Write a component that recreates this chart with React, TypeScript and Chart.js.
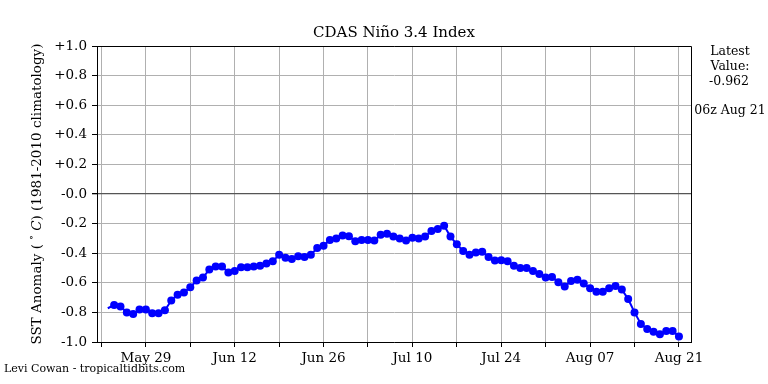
import React, { useEffect, useRef } from "react";
import { Chart, registerables } from "chart.js";

Chart.register(...registerables);

// Daily CDAS Niño 3.4 anomaly, May 23 (day -6 relative to May 29) through Aug 21 (day 84)
const firstDay = -6;
const anomalies: number[] = [
  -0.772, -0.75, -0.76, -0.8, -0.81, -0.78,
  -0.78, -0.805, -0.805, -0.785, -0.72, -0.68, -0.665,
  -0.63, -0.585, -0.565, -0.51, -0.49, -0.49, -0.53,
  -0.52, -0.495, -0.495, -0.49, -0.485, -0.47, -0.455,
  -0.41, -0.43, -0.44, -0.42, -0.425, -0.41, -0.365,
  -0.35, -0.31, -0.3, -0.28, -0.285, -0.32, -0.31,
  -0.31, -0.315, -0.275, -0.268, -0.288, -0.3, -0.315,
  -0.295, -0.3, -0.288, -0.25, -0.236, -0.215, -0.288,
  -0.34, -0.385, -0.41, -0.395, -0.39, -0.425, -0.45,
  -0.447, -0.455, -0.485, -0.5, -0.5, -0.52, -0.54,
  -0.565, -0.56, -0.597, -0.625, -0.588, -0.58, -0.605,
  -0.637, -0.66, -0.66, -0.637, -0.622, -0.645, -0.71,
  -0.8, -0.878, -0.912, -0.93, -0.948, -0.925, -0.926,
  -0.962,
];

const xTickDays = [0, 14, 28, 42, 56, 70, 84];
const xTickLabels = ["May 29", "Jun 12", "Jun 26", "Jul 10", "Jul 24", "Aug 07", "Aug 21"];
const yTickValues = [1.0, 0.8, 0.6, 0.4, 0.2, 0.0, -0.2, -0.4, -0.6, -0.8, -1.0];
const yTickLabels = ["+1.0", "+0.8", "+0.6", "+0.4", "+0.2", "-0.0", "-0.2", "-0.4", "-0.6", "-0.8", "-1.0"];

const titleText = "CDAS Niño 3.4 Index";
const latestLines = ["Latest", "Value:", "-0.962"];
const latestTime = "06z Aug 21";
const creditText = "Levi Cowan - tropicaltidbits.com";

const FONT = '"DejaVu Serif", serif';

const textPlugin = {
  id: "textPlugin",
  afterDraw(chart: any) {
    const ctx: CanvasRenderingContext2D = chart.ctx;
    const { left, right, top, bottom } = chart.chartArea;
    ctx.save();
    // top and right frame
    ctx.strokeStyle = "#000";
    ctx.lineWidth = 1;
    ctx.beginPath();
    ctx.moveTo(left, Math.round(top) + 0.5);
    ctx.lineTo(Math.round(right) + 0.5, Math.round(top) + 0.5);
    ctx.lineTo(Math.round(right) + 0.5, bottom);
    ctx.stroke();

    ctx.fillStyle = "#000";
    ctx.textBaseline = "middle";
    ctx.textAlign = "center";
    ctx.font = `15px ${FONT}`;
    ctx.fillText(titleText, (left + right) / 2, 33);

    ctx.font = `12.5px ${FONT}`;
    ctx.fillText(latestLines[0], 730, 52);
    ctx.fillText(latestLines[1], 730, 67);
    ctx.fillText(latestLines[2], 729, 82);
    ctx.fillText(latestTime, 730, 111);

    ctx.textAlign = "left";
    ctx.font = `11px ${FONT}`;
    ctx.fillText(creditText, 4, 369);

    // rotated y-axis label with superscript circle and italic C
    const parts = [
      { t: "SST Anomaly (", f: `13.5px ${FONT}`, dy: 0 },
      { t: " ", f: `13.5px ${FONT}`, dy: 0 },
      { t: "∘", f: `9.5px ${FONT}`, dy: -5 },
      { t: " ", f: `13.5px ${FONT}`, dy: 0 },
      { t: "C", f: `italic 13.5px ${FONT}`, dy: 0 },
      { t: ") (1981-2010 climatology)", f: `13.5px ${FONT}`, dy: 0 },
    ];
    let total = 0;
    const widths = parts.map((p) => {
      ctx.font = p.f;
      const w = ctx.measureText(p.t).width;
      total += w;
      return w;
    });
    ctx.translate(37, (top + bottom) / 2);
    ctx.rotate(-Math.PI / 2);
    let x = -total / 2;
    parts.forEach((p, i) => {
      ctx.font = p.f;
      ctx.fillText(p.t, x, p.dy);
      x += widths[i];
    });
    ctx.restore();
  },
};

export default function App() {
  const ref = useRef<HTMLCanvasElement>(null);

  useEffect(() => {
    document.body.style.margin = "0";
    const points = anomalies.map((v, i) => ({ x: firstDay + i, y: v }));
    const radii = anomalies.map((_, i) => (i === 0 ? 0 : 4));
    const chart = new Chart(ref.current as HTMLCanvasElement, {
      type: "line",
      data: {
        datasets: [
          {
            data: points,
            borderColor: "#0000ff",
            backgroundColor: "#0000ff",
            borderWidth: 2,
            pointRadius: radii,
            pointBorderWidth: 0,
            pointBackgroundColor: "#0000ff",
            tension: 0,
          },
        ],
      },
      options: {
        responsive: false,
        animation: false,
        layout: { padding: { left: 0, top: 46, right: 77, bottom: 0 } },
        plugins: {
          legend: { display: false },
          title: { display: false },
          tooltip: { enabled: false },
        },
        scales: {
          x: {
            type: "linear",
            min: -7.7,
            max: 85.9,
            afterFit: (s: any) => {
              s.height = 42;
            },
            ticks: {
              stepSize: 7,
              includeBounds: false,
              autoSkip: false,
              maxRotation: 0,
              padding: 3,
              color: "#000",
              font: { family: FONT, size: 13.5 },
              callback: (v: any) => {
                const idx = xTickDays.indexOf(Number(v));
                return idx >= 0 ? xTickLabels[idx] : "";
              },
            },
            grid: {
              color: "#b0b0b0",
              lineWidth: 1,
              tickColor: "#000",
              tickLength: 5,
            },
            border: { color: "#000", width: 1 },
          },
          y: {
            min: -1,
            max: 1,
            afterFit: (s: any) => {
              s.width = 97;
            },
            ticks: {
              stepSize: 0.2,
              padding: 5,
              color: "#000",
              font: { family: FONT, size: 13.5 },
              callback: (v: any) => {
                const n = Number(v);
                const idx = yTickValues.findIndex((t) => Math.abs(t - n) < 1e-6);
                return idx >= 0 ? yTickLabels[idx] : "";
              },
            },
            grid: {
              color: (c: any) =>
                c.tick && Math.abs(c.tick.value) < 1e-6 ? "#555555" : "#b0b0b0",
              lineWidth: (c: any) => (c.tick && Math.abs(c.tick.value) < 1e-6 ? 1.3 : 1),
              tickColor: "#000",
              tickLength: 5,
            },
            border: { color: "#000", width: 1 },
          },
        },
      },
      plugins: [textPlugin],
    } as any);
    return () => chart.destroy();
  }, []);

  return (
    <div style={{ position: "absolute", left: 0, top: 0, width: 768, height: 384, background: "#fff" }}>
      <canvas ref={ref} width={768} height={384} />
    </div>
  );
}
